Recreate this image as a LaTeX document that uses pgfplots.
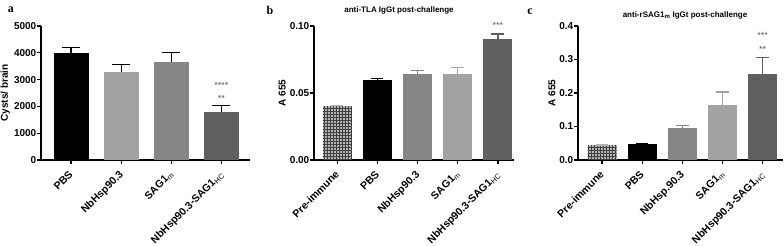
\documentclass[border=0pt]{standalone}
\usepackage{fontspec}
\setmainfont{Liberation Sans}
\newfontfamily\letterfont{Liberation Serif}
\usepackage{pgfplots}
\pgfplotsset{compat=1.18}
\usetikzlibrary{patterns}

\definecolor{gA}{HTML}{A3A3A3}
\definecolor{gB}{HTML}{868686}
\definecolor{gC}{HTML}{606060}
\definecolor{gP}{HTML}{B4B4B4}
\definecolor{star}{HTML}{555555}

\newcommand{\sub}[1]{\textsubscript{\mdseries #1}}

\tikzset{stars/.style={font=\fontsize{9}{9}\selectfont, text=star}}

\pgfplotsset{
  panel/.style={
    scale only axis, height=134pt, clip=false,
    axis x line*=bottom, axis y line*=left,
    axis line style={line width=1.4pt,-},
    every tick/.style={line width=1.2pt, black},
    tick align=outside, major tick length=4pt,
    ybar, bar shift=0pt, ymin=0,
    xtick={0,...,4},
    x tick label style={rotate=45, anchor=north east, inner sep=1pt,
      xshift=-5pt, yshift=-1pt,
      font=\bfseries\fontsize{10.5}{11}\selectfont},
    y tick label style={inner sep=0.5pt, font=\bfseries\fontsize{10}{11}\selectfont},
    ylabel style={font=\bfseries\fontsize{10}{11}\selectfont},
    error bars/y dir=plus, error bars/y explicit,
  },
  err/.style 2 args={
    error bars/error bar style={#1, line width=1.3pt},
    error bars/error mark options={#1, rotate=90, line width=1.3pt, mark size=#2}},
}

\begin{document}
\begin{tikzpicture}
\useasboundingbox (0,0) rectangle (784pt,246pt);

% panel a
\begin{axis}[panel, at={(41pt,86pt)}, anchor=south west,
  width=209pt, xmin=-0.6, xmax=3.57, bar width=35pt,
  ymax=5000, ytick={0,1000,...,5000},
  yticklabels={0,1000,2000,3000,4000,5000},
  xticklabels={PBS, NbHsp90.3, SAG1\sub{m}, NbHsp90.3-SAG1\sub{HC}},
  ylabel={Cysts/ brain}]
\addplot[fill=black, draw=none, err={black}{9pt}] coordinates {(0,3980) +- (0,220)};
\addplot[fill=gA, draw=none, err={black}{9pt}] coordinates {(1,3300) +- (0,270)};
\addplot[fill=gB, draw=none, err={black}{9pt}] coordinates {(2,3650) +- (0,350)};
\addplot[fill=gC, draw=none, err={black}{9pt}] coordinates {(3,1800) +- (0,230)};
\node[stars] at (axis cs:3,2313) {**};
\node[stars] at (axis cs:3,2800) {****};
\end{axis}

% panel b
\begin{axis}[panel, at={(314pt,86pt)}, anchor=south west,
  width=200pt, xmin=-0.58, xmax=4.4, bar width=29pt,
  ymax=0.10, ytick={0,0.05,0.10},
  yticklabels={0.00,0.05,0.10},
  xticklabels={Pre-immune, PBS, NbHsp90.3, SAG1\sub{m}, NbHsp90.3-SAG1\sub{HC}},
  ylabel={A 655}]
\addplot[fill=gP, draw=none, postaction={pattern=grid, pattern color=black!75},
  err={gP}{6pt}] coordinates {(0,0.040) +- (0,0.0005)};
\addplot[fill=black, draw=none, err={black}{6pt}] coordinates {(1,0.060) +- (0,0.001)};
\addplot[fill=gB, draw=none, err={gB}{6.5pt}] coordinates {(2,0.064) +- (0,0.003)};
\addplot[fill=gA, draw=none, err={gA}{6.5pt}] coordinates {(3,0.064) +- (0,0.005)};
\addplot[fill=gC, draw=none, err={gC}{6.5pt}] coordinates {(4,0.090) +- (0,0.004)};
\node[stars] at (axis cs:4,0.1007) {***};
\end{axis}

% panel c
\begin{axis}[panel, at={(578pt,86pt)}, anchor=south west,
  width=205pt, xmin=-0.6, xmax=4.51, bar width=29pt,
  ymax=0.4, ytick={0,0.1,...,0.4},
  yticklabels={0.0,0.1,0.2,0.3,0.4},
  xticklabels={Pre-immune, PBS, NbHsp.90.3, SAG1\sub{m}, NbHsp90.3-SAG1\sub{HC}},
  ylabel={A 655}]
\addplot[fill=gP, draw=none, postaction={pattern=grid, pattern color=black!75},
  err={gP}{6pt}] coordinates {(0,0.044) +- (0,0.001)};
\addplot[fill=black, draw=none, err={black}{6pt}] coordinates {(1,0.047) +- (0,0.001)};
\addplot[fill=gB, draw=none, err={gB}{6.5pt}] coordinates {(2,0.095) +- (0,0.008)};
\addplot[fill=gA, draw=none, err={gA}{6.5pt}] coordinates {(3,0.163) +- (0,0.040)};
\addplot[fill=gC, draw=none, err={gC}{6.5pt}] coordinates {(4,0.258) +- (0,0.049)};
\node[stars] at (axis cs:4,0.331) {**};
\node[stars] at (axis cs:4,0.373) {***};
\end{axis}

% titles and panel letters
\node[font=\bfseries\fontsize{8}{9}\selectfont] at (399pt,236pt) {anti-TLA IgGt post-challenge};
\node[font=\bfseries\fontsize{8}{9}\selectfont] at (685pt,231pt) {anti-rSAG1\textsubscript{m} IgGt post-challenge};
\node[font=\letterfont\bfseries\fontsize{12}{12}\selectfont] at (11pt,236pt) {a};
\node[font=\letterfont\bfseries\fontsize{12}{12}\selectfont] at (270pt,236pt) {b};
\node[font=\letterfont\bfseries\fontsize{12}{12}\selectfont] at (530pt,234pt) {c};
\end{tikzpicture}
\end{document}
